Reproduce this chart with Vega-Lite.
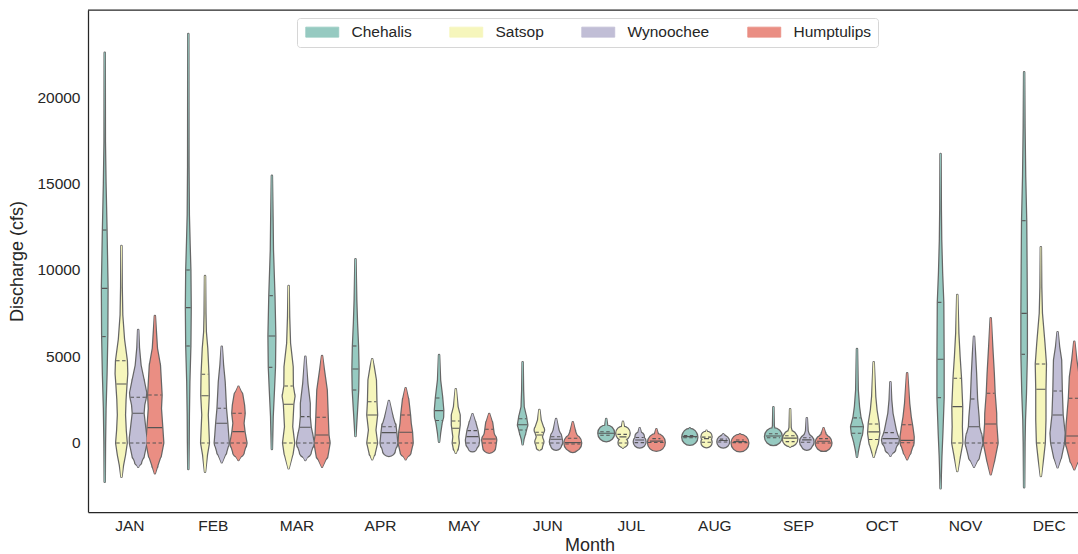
{
"$schema": "https://vega.github.io/schema/vega-lite/v6.json",
"width": 990, "height": 502,
"autosize": {"type": "none"},
"padding": {"left": 88, "top": 10, "right": 0, "bottom": 42},
"background": "white",
"config": {
 "view": {"stroke": null},
 "font": "Liberation Sans",
 "axis": {"domainColor": "#262626", "domainWidth": 1.25, "ticks": false, "grid": false, "labelFont": "Liberation Sans", "labelFontSize": 15.5, "labelColor": "#262626", "titleFont": "Liberation Sans", "titleFontSize": 18, "titleFontWeight": "normal", "titleColor": "#262626"}
},
"datasets": {
"violins": [
{"m":"JAN","r":"Chehalis","v":22560,"d":0},{"m":"JAN","r":"Chehalis","v":17400,"d":0.03},{"m":"JAN","r":"Chehalis","v":15000,"d":0.15},{"m":"JAN","r":"Chehalis","v":12300,"d":0.35},{"m":"JAN","r":"Chehalis","v":9000,"d":0.55},{"m":"JAN","r":"Chehalis","v":6200,"d":0.5},{"m":"JAN","r":"Chehalis","v":4000,"d":0.35},{"m":"JAN","r":"Chehalis","v":2000,"d":0.15},{"m":"JAN","r":"Chehalis","v":0,"d":0.05},{"m":"JAN","r":"Chehalis","v":-2237,"d":0},
{"m":"JAN","r":"Satsop","v":11387,"d":0},{"m":"JAN","r":"Satsop","v":9000,"d":0.05},{"m":"JAN","r":"Satsop","v":7400,"d":0.15},{"m":"JAN","r":"Satsop","v":6000,"d":0.5},{"m":"JAN","r":"Satsop","v":4757,"d":1.07},{"m":"JAN","r":"Satsop","v":4000,"d":1.15},{"m":"JAN","r":"Satsop","v":3410,"d":1.0},{"m":"JAN","r":"Satsop","v":2500,"d":0.8},{"m":"JAN","r":"Satsop","v":1620,"d":0.7},{"m":"JAN","r":"Satsop","v":700,"d":0.85},{"m":"JAN","r":"Satsop","v":0,"d":1.05},{"m":"JAN","r":"Satsop","v":-700,"d":0.7},{"m":"JAN","r":"Satsop","v":-1300,"d":0.3},{"m":"JAN","r":"Satsop","v":-1946,"d":0},
{"m":"JAN","r":"Wynoochee","v":6531,"d":0},{"m":"JAN","r":"Wynoochee","v":5500,"d":0.15},{"m":"JAN","r":"Wynoochee","v":4500,"d":0.47},{"m":"JAN","r":"Wynoochee","v":3550,"d":1.15},{"m":"JAN","r":"Wynoochee","v":2900,"d":1.6},{"m":"JAN","r":"Wynoochee","v":2640,"d":1.53},{"m":"JAN","r":"Wynoochee","v":2200,"d":1.2},{"m":"JAN","r":"Wynoochee","v":1715,"d":1.07},{"m":"JAN","r":"Wynoochee","v":900,"d":1.4},{"m":"JAN","r":"Wynoochee","v":300,"d":1.65},{"m":"JAN","r":"Wynoochee","v":0,"d":1.65},{"m":"JAN","r":"Wynoochee","v":-700,"d":1.15},{"m":"JAN","r":"Wynoochee","v":-1100,"d":0.6},{"m":"JAN","r":"Wynoochee","v":-1370,"d":0},
{"m":"JAN","r":"Humptulips","v":7341,"d":0},{"m":"JAN","r":"Humptulips","v":6400,"d":0.2},{"m":"JAN","r":"Humptulips","v":5470,"d":0.4},{"m":"JAN","r":"Humptulips","v":4500,"d":1.0},{"m":"JAN","r":"Humptulips","v":2774,"d":1.33},{"m":"JAN","r":"Humptulips","v":2000,"d":1.2},{"m":"JAN","r":"Humptulips","v":886,"d":1.47},{"m":"JAN","r":"Humptulips","v":0,"d":1.67},{"m":"JAN","r":"Humptulips","v":-670,"d":1.23},{"m":"JAN","r":"Humptulips","v":-1300,"d":0.5},{"m":"JAN","r":"Humptulips","v":-1753,"d":0},
{"m":"FEB","r":"Chehalis","v":23640,"d":0},{"m":"FEB","r":"Chehalis","v":16000,"d":0.03},{"m":"FEB","r":"Chehalis","v":13200,"d":0.1},{"m":"FEB","r":"Chehalis","v":11500,"d":0.25},{"m":"FEB","r":"Chehalis","v":10000,"d":0.4},{"m":"FEB","r":"Chehalis","v":7822,"d":0.47},{"m":"FEB","r":"Chehalis","v":5607,"d":0.4},{"m":"FEB","r":"Chehalis","v":3543,"d":0.2},{"m":"FEB","r":"Chehalis","v":1620,"d":0.1},{"m":"FEB","r":"Chehalis","v":0,"d":0.06},{"m":"FEB","r":"Chehalis","v":-1503,"d":0},
{"m":"FEB","r":"Satsop","v":9653,"d":0},{"m":"FEB","r":"Satsop","v":7500,"d":0.07},{"m":"FEB","r":"Satsop","v":6434,"d":0.15},{"m":"FEB","r":"Satsop","v":5473,"d":0.43},{"m":"FEB","r":"Satsop","v":3969,"d":0.67},{"m":"FEB","r":"Satsop","v":2734,"d":0.73},{"m":"FEB","r":"Satsop","v":1620,"d":0.53},{"m":"FEB","r":"Satsop","v":0,"d":0.77},{"m":"FEB","r":"Satsop","v":-694,"d":0.37},{"m":"FEB","r":"Satsop","v":-1658,"d":0},
{"m":"FEB","r":"Wynoochee","v":5569,"d":0},{"m":"FEB","r":"Wynoochee","v":4508,"d":0.25},{"m":"FEB","r":"Wynoochee","v":3543,"d":0.57},{"m":"FEB","r":"Wynoochee","v":2005,"d":0.83},{"m":"FEB","r":"Wynoochee","v":1137,"d":1.1},{"m":"FEB","r":"Wynoochee","v":462,"d":1.27},{"m":"FEB","r":"Wynoochee","v":0,"d":1.4},{"m":"FEB","r":"Wynoochee","v":-501,"d":0.9},{"m":"FEB","r":"Wynoochee","v":-1118,"d":0},
{"m":"FEB","r":"Humptulips","v":3256,"d":0},{"m":"FEB","r":"Humptulips","v":2774,"d":0.77},{"m":"FEB","r":"Humptulips","v":2200,"d":1.1},{"m":"FEB","r":"Humptulips","v":1715,"d":1.23},{"m":"FEB","r":"Humptulips","v":1137,"d":1.0},{"m":"FEB","r":"Humptulips","v":655,"d":1.2},{"m":"FEB","r":"Humptulips","v":0,"d":1.6},{"m":"FEB","r":"Humptulips","v":-501,"d":1.07},{"m":"FEB","r":"Humptulips","v":-983,"d":0},
{"m":"MAR","r":"Chehalis","v":15450,"d":0},{"m":"MAR","r":"Chehalis","v":13080,"d":0.12},{"m":"MAR","r":"Chehalis","v":11155,"d":0.2},{"m":"MAR","r":"Chehalis","v":8515,"d":0.5},{"m":"MAR","r":"Chehalis","v":6185,"d":0.67},{"m":"MAR","r":"Chehalis","v":4374,"d":0.6},{"m":"MAR","r":"Chehalis","v":3063,"d":0.4},{"m":"MAR","r":"Chehalis","v":1522,"d":0.15},{"m":"MAR","r":"Chehalis","v":500,"d":0.07},{"m":"MAR","r":"Chehalis","v":-347,"d":0},
{"m":"MAR","r":"Satsop","v":9075,"d":0},{"m":"MAR","r":"Satsop","v":7300,"d":0.1},{"m":"MAR","r":"Satsop","v":5760,"d":0.27},{"m":"MAR","r":"Satsop","v":4410,"d":0.8},{"m":"MAR","r":"Satsop","v":3295,"d":0.83},{"m":"MAR","r":"Satsop","v":2700,"d":1.17},{"m":"MAR","r":"Satsop","v":2235,"d":0.93},{"m":"MAR","r":"Satsop","v":942,"d":0.7},{"m":"MAR","r":"Satsop","v":0,"d":1.1},{"m":"MAR","r":"Satsop","v":-595,"d":0.8},{"m":"MAR","r":"Satsop","v":-1464,"d":0},
{"m":"MAR","r":"Wynoochee","v":4990,"d":0},{"m":"MAR","r":"Wynoochee","v":3449,"d":0.4},{"m":"MAR","r":"Wynoochee","v":2294,"d":0.87},{"m":"MAR","r":"Wynoochee","v":1522,"d":0.87},{"m":"MAR","r":"Wynoochee","v":907,"d":1.07},{"m":"MAR","r":"Wynoochee","v":462,"d":1.4},{"m":"MAR","r":"Wynoochee","v":0,"d":1.67},{"m":"MAR","r":"Wynoochee","v":-501,"d":1.1},{"m":"MAR","r":"Wynoochee","v":-983,"d":0},
{"m":"MAR","r":"Humptulips","v":5029,"d":0},{"m":"MAR","r":"Humptulips","v":4220,"d":0.37},{"m":"MAR","r":"Humptulips","v":3063,"d":0.93},{"m":"MAR","r":"Humptulips","v":1484,"d":1.13},{"m":"MAR","r":"Humptulips","v":462,"d":1.27},{"m":"MAR","r":"Humptulips","v":0,"d":1.5},{"m":"MAR","r":"Humptulips","v":-694,"d":1.1},{"m":"MAR","r":"Humptulips","v":-1370,"d":0},
{"m":"APR","r":"Chehalis","v":10618,"d":0},{"m":"APR","r":"Chehalis","v":8265,"d":0.15},{"m":"APR","r":"Chehalis","v":6917,"d":0.3},{"m":"APR","r":"Chehalis","v":5607,"d":0.5},{"m":"APR","r":"Chehalis","v":4277,"d":0.6},{"m":"APR","r":"Chehalis","v":3063,"d":0.53},{"m":"APR","r":"Chehalis","v":1907,"d":0.3},{"m":"APR","r":"Chehalis","v":942,"d":0.1},{"m":"APR","r":"Chehalis","v":405,"d":0},
{"m":"APR","r":"Satsop","v":4838,"d":0},{"m":"APR","r":"Satsop","v":4410,"d":0.3},{"m":"APR","r":"Satsop","v":3641,"d":0.73},{"m":"APR","r":"Satsop","v":2387,"d":0.83},{"m":"APR","r":"Satsop","v":1618,"d":0.97},{"m":"APR","r":"Satsop","v":751,"d":0.63},{"m":"APR","r":"Satsop","v":0,"d":0.97},{"m":"APR","r":"Satsop","v":-595,"d":0.5},{"m":"APR","r":"Satsop","v":-942,"d":0},
{"m":"APR","r":"Wynoochee","v":2428,"d":0},{"m":"APR","r":"Wynoochee","v":1522,"d":0.73},{"m":"APR","r":"Wynoochee","v":942,"d":1.33},{"m":"APR","r":"Wynoochee","v":597,"d":1.47},{"m":"APR","r":"Wynoochee","v":0,"d":1.67},{"m":"APR","r":"Wynoochee","v":-405,"d":1.2},{"m":"APR","r":"Wynoochee","v":-595,"d":0},
{"m":"APR","r":"Humptulips","v":3160,"d":0},{"m":"APR","r":"Humptulips","v":2485,"d":0.53},{"m":"APR","r":"Humptulips","v":1618,"d":0.87},{"m":"APR","r":"Humptulips","v":1137,"d":1.0},{"m":"APR","r":"Humptulips","v":618,"d":1.27},{"m":"APR","r":"Humptulips","v":0,"d":1.4},{"m":"APR","r":"Humptulips","v":-501,"d":1.0},{"m":"APR","r":"Humptulips","v":-942,"d":0},
{"m":"MAY","r":"Chehalis","v":5086,"d":0},{"m":"MAY","r":"Chehalis","v":3641,"d":0.2},{"m":"MAY","r":"Chehalis","v":2677,"d":0.6},{"m":"MAY","r":"Chehalis","v":1900,"d":0.83},{"m":"MAY","r":"Chehalis","v":1500,"d":0.8},{"m":"MAY","r":"Chehalis","v":1137,"d":0.5},{"m":"MAY","r":"Chehalis","v":559,"d":0.2},{"m":"MAY","r":"Chehalis","v":77,"d":0},
{"m":"MAY","r":"Satsop","v":3102,"d":0},{"m":"MAY","r":"Satsop","v":2100,"d":0.35},{"m":"MAY","r":"Satsop","v":1618,"d":0.77},{"m":"MAY","r":"Satsop","v":1040,"d":0.77},{"m":"MAY","r":"Satsop","v":364,"d":0.47},{"m":"MAY","r":"Satsop","v":0,"d":0.6},{"m":"MAY","r":"Satsop","v":-308,"d":0.4},{"m":"MAY","r":"Satsop","v":-559,"d":0},
{"m":"MAY","r":"Wynoochee","v":1657,"d":0},{"m":"MAY","r":"Wynoochee","v":1137,"d":0.6},{"m":"MAY","r":"Wynoochee","v":713,"d":1.0},{"m":"MAY","r":"Wynoochee","v":173,"d":1.3},{"m":"MAY","r":"Wynoochee","v":0,"d":1.25},{"m":"MAY","r":"Wynoochee","v":-250,"d":0.8},{"m":"MAY","r":"Wynoochee","v":-405,"d":0},
{"m":"MAY","r":"Humptulips","v":1676,"d":0},{"m":"MAY","r":"Humptulips","v":1137,"d":0.6},{"m":"MAY","r":"Humptulips","v":559,"d":0.87},{"m":"MAY","r":"Humptulips","v":173,"d":1.4},{"m":"MAY","r":"Humptulips","v":-212,"d":1.2},{"m":"MAY","r":"Humptulips","v":-559,"d":0},
{"m":"JUN","r":"Chehalis","v":4662,"d":0},{"m":"JUN","r":"Chehalis","v":3063,"d":0.08},{"m":"JUN","r":"Chehalis","v":2100,"d":0.2},{"m":"JUN","r":"Chehalis","v":1520,"d":0.67},{"m":"JUN","r":"Chehalis","v":1040,"d":0.93},{"m":"JUN","r":"Chehalis","v":560,"d":0.5},{"m":"JUN","r":"Chehalis","v":200,"d":0.15},{"m":"JUN","r":"Chehalis","v":-77,"d":0},
{"m":"JUN","r":"Satsop","v":1907,"d":0},{"m":"JUN","r":"Satsop","v":1329,"d":0.25},{"m":"JUN","r":"Satsop","v":751,"d":0.93},{"m":"JUN","r":"Satsop","v":364,"d":0.5},{"m":"JUN","r":"Satsop","v":77,"d":0.8},{"m":"JUN","r":"Satsop","v":-230,"d":0.5},{"m":"JUN","r":"Satsop","v":-405,"d":0},
{"m":"JUN","r":"Wynoochee","v":1387,"d":0},{"m":"JUN","r":"Wynoochee","v":751,"d":0.47},{"m":"JUN","r":"Wynoochee","v":364,"d":1.03},{"m":"JUN","r":"Wynoochee","v":77,"d":1.23},{"m":"JUN","r":"Wynoochee","v":-100,"d":1.0},{"m":"JUN","r":"Wynoochee","v":-308,"d":0},
{"m":"JUN","r":"Humptulips","v":1195,"d":0},{"m":"JUN","r":"Humptulips","v":655,"d":0.47},{"m":"JUN","r":"Humptulips","v":270,"d":1.0},{"m":"JUN","r":"Humptulips","v":0,"d":1.67},{"m":"JUN","r":"Humptulips","v":-200,"d":1.1},{"m":"JUN","r":"Humptulips","v":-347,"d":0},
{"m":"JUL","r":"Chehalis","v":1387,"d":0},{"m":"JUL","r":"Chehalis","v":1000,"d":0.2},{"m":"JUL","r":"Chehalis","v":800,"d":0.6},{"m":"JUL","r":"Chehalis","v":560,"d":1.57},{"m":"JUL","r":"Chehalis","v":350,"d":0.8},{"m":"JUL","r":"Chehalis","v":135,"d":0},
{"m":"JUL","r":"Satsop","v":1233,"d":0},{"m":"JUL","r":"Satsop","v":850,"d":0.25},{"m":"JUL","r":"Satsop","v":560,"d":1.33},{"m":"JUL","r":"Satsop","v":270,"d":0.4},{"m":"JUL","r":"Satsop","v":20,"d":0.87},{"m":"JUL","r":"Satsop","v":-270,"d":0},
{"m":"JUL","r":"Wynoochee","v":848,"d":0},{"m":"JUL","r":"Wynoochee","v":550,"d":0.3},{"m":"JUL","r":"Wynoochee","v":366,"d":0.83},{"m":"JUL","r":"Wynoochee","v":150,"d":0.9},{"m":"JUL","r":"Wynoochee","v":77,"d":1.17},{"m":"JUL","r":"Wynoochee","v":-154,"d":0},
{"m":"JUL","r":"Humptulips","v":790,"d":0},{"m":"JUL","r":"Humptulips","v":500,"d":0.3},{"m":"JUL","r":"Humptulips","v":250,"d":0.8},{"m":"JUL","r":"Humptulips","v":30,"d":1.67},{"m":"JUL","r":"Humptulips","v":-154,"d":0},
{"m":"AUG","r":"Chehalis","v":848,"d":0},{"m":"AUG","r":"Chehalis","v":600,"d":0.25},{"m":"AUG","r":"Chehalis","v":400,"d":1.4},{"m":"AUG","r":"Chehalis","v":330,"d":1.5},{"m":"AUG","r":"Chehalis","v":200,"d":0.6},{"m":"AUG","r":"Chehalis","v":77,"d":0},
{"m":"AUG","r":"Satsop","v":713,"d":0},{"m":"AUG","r":"Satsop","v":500,"d":0.2},{"m":"AUG","r":"Satsop","v":366,"d":1.0},{"m":"AUG","r":"Satsop","v":212,"d":0.43},{"m":"AUG","r":"Satsop","v":40,"d":1.0},{"m":"AUG","r":"Satsop","v":-116,"d":0},
{"m":"AUG","r":"Wynoochee","v":501,"d":0},{"m":"AUG","r":"Wynoochee","v":300,"d":0.5},{"m":"AUG","r":"Wynoochee","v":150,"d":0.9},{"m":"AUG","r":"Wynoochee","v":77,"d":1.17},{"m":"AUG","r":"Wynoochee","v":-154,"d":0},
{"m":"AUG","r":"Humptulips","v":501,"d":0},{"m":"AUG","r":"Humptulips","v":300,"d":0.4},{"m":"AUG","r":"Humptulips","v":120,"d":1.0},{"m":"AUG","r":"Humptulips","v":0,"d":1.67},{"m":"AUG","r":"Humptulips","v":-154,"d":0},
{"m":"SEP","r":"Chehalis","v":2063,"d":0},{"m":"SEP","r":"Chehalis","v":1000,"d":0.07},{"m":"SEP","r":"Chehalis","v":700,"d":0.3},{"m":"SEP","r":"Chehalis","v":500,"d":1.0},{"m":"SEP","r":"Chehalis","v":366,"d":1.67},{"m":"SEP","r":"Chehalis","v":200,"d":1.0},{"m":"SEP","r":"Chehalis","v":-20,"d":0},
{"m":"SEP","r":"Satsop","v":1946,"d":0},{"m":"SEP","r":"Satsop","v":900,"d":0.1},{"m":"SEP","r":"Satsop","v":600,"d":0.4},{"m":"SEP","r":"Satsop","v":350,"d":1.2},{"m":"SEP","r":"Satsop","v":230,"d":1.43},{"m":"SEP","r":"Satsop","v":50,"d":0.8},{"m":"SEP","r":"Satsop","v":-212,"d":0},
{"m":"SEP","r":"Wynoochee","v":1425,"d":0},{"m":"SEP","r":"Wynoochee","v":700,"d":0.15},{"m":"SEP","r":"Wynoochee","v":400,"d":0.5},{"m":"SEP","r":"Wynoochee","v":200,"d":1.0},{"m":"SEP","r":"Wynoochee","v":77,"d":1.33},{"m":"SEP","r":"Wynoochee","v":-100,"d":1.0},{"m":"SEP","r":"Wynoochee","v":-308,"d":0},
{"m":"SEP","r":"Humptulips","v":848,"d":0},{"m":"SEP","r":"Humptulips","v":500,"d":0.4},{"m":"SEP","r":"Humptulips","v":250,"d":0.9},{"m":"SEP","r":"Humptulips","v":0,"d":1.57},{"m":"SEP","r":"Humptulips","v":-250,"d":0},
{"m":"OCT","r":"Chehalis","v":5433,"d":0},{"m":"OCT","r":"Chehalis","v":3063,"d":0.15},{"m":"OCT","r":"Chehalis","v":2100,"d":0.4},{"m":"OCT","r":"Chehalis","v":1522,"d":0.67},{"m":"OCT","r":"Chehalis","v":942,"d":1.17},{"m":"OCT","r":"Chehalis","v":559,"d":1.03},{"m":"OCT","r":"Chehalis","v":0,"d":0.5},{"m":"OCT","r":"Chehalis","v":-500,"d":0.15},{"m":"OCT","r":"Chehalis","v":-790,"d":0},
{"m":"OCT","r":"Satsop","v":4662,"d":0},{"m":"OCT","r":"Satsop","v":2677,"d":0.3},{"m":"OCT","r":"Satsop","v":1907,"d":0.55},{"m":"OCT","r":"Satsop","v":1137,"d":0.97},{"m":"OCT","r":"Satsop","v":559,"d":1.1},{"m":"OCT","r":"Satsop","v":0,"d":0.83},{"m":"OCT","r":"Satsop","v":-500,"d":0.3},{"m":"OCT","r":"Satsop","v":-790,"d":0},
{"m":"OCT","r":"Wynoochee","v":3506,"d":0},{"m":"OCT","r":"Wynoochee","v":2500,"d":0.15},{"m":"OCT","r":"Wynoochee","v":1715,"d":0.4},{"m":"OCT","r":"Wynoochee","v":751,"d":1.07},{"m":"OCT","r":"Wynoochee","v":173,"d":1.67},{"m":"OCT","r":"Wynoochee","v":-308,"d":1.0},{"m":"OCT","r":"Wynoochee","v":-732,"d":0},
{"m":"OCT","r":"Humptulips","v":4028,"d":0},{"m":"OCT","r":"Humptulips","v":2294,"d":0.4},{"m":"OCT","r":"Humptulips","v":1522,"d":0.7},{"m":"OCT","r":"Humptulips","v":942,"d":1.03},{"m":"OCT","r":"Humptulips","v":366,"d":1.3},{"m":"OCT","r":"Humptulips","v":0,"d":1.27},{"m":"OCT","r":"Humptulips","v":-501,"d":0.7},{"m":"OCT","r":"Humptulips","v":-945,"d":0},
{"m":"NOV","r":"Chehalis","v":16704,"d":0},{"m":"NOV","r":"Chehalis","v":13500,"d":0.05},{"m":"NOV","r":"Chehalis","v":11733,"d":0.12},{"m":"NOV","r":"Chehalis","v":9810,"d":0.3},{"m":"NOV","r":"Chehalis","v":8130,"d":0.53},{"m":"NOV","r":"Chehalis","v":4836,"d":0.6},{"m":"NOV","r":"Chehalis","v":2620,"d":0.6},{"m":"NOV","r":"Chehalis","v":559,"d":0.35},{"m":"NOV","r":"Chehalis","v":-790,"d":0.15},{"m":"NOV","r":"Chehalis","v":-1900,"d":0.04},{"m":"NOV","r":"Chehalis","v":-2620,"d":0},
{"m":"NOV","r":"Satsop","v":8554,"d":0},{"m":"NOV","r":"Satsop","v":6339,"d":0.2},{"m":"NOV","r":"Satsop","v":4990,"d":0.45},{"m":"NOV","r":"Satsop","v":3738,"d":0.73},{"m":"NOV","r":"Satsop","v":2100,"d":0.97},{"m":"NOV","r":"Satsop","v":942,"d":0.9},{"m":"NOV","r":"Satsop","v":0,"d":1.0},{"m":"NOV","r":"Satsop","v":-790,"d":0.5},{"m":"NOV","r":"Satsop","v":-1618,"d":0},
{"m":"NOV","r":"Wynoochee","v":6147,"d":0},{"m":"NOV","r":"Wynoochee","v":5185,"d":0.2},{"m":"NOV","r":"Wynoochee","v":4028,"d":0.4},{"m":"NOV","r":"Wynoochee","v":2543,"d":0.6},{"m":"NOV","r":"Wynoochee","v":1522,"d":0.9},{"m":"NOV","r":"Wynoochee","v":942,"d":1.0},{"m":"NOV","r":"Wynoochee","v":366,"d":1.53},{"m":"NOV","r":"Wynoochee","v":0,"d":1.67},{"m":"NOV","r":"Wynoochee","v":-790,"d":1.0},{"m":"NOV","r":"Wynoochee","v":-1368,"d":0},
{"m":"NOV","r":"Humptulips","v":7207,"d":0},{"m":"NOV","r":"Humptulips","v":5569,"d":0.3},{"m":"NOV","r":"Humptulips","v":4028,"d":0.6},{"m":"NOV","r":"Humptulips","v":2871,"d":0.77},{"m":"NOV","r":"Humptulips","v":1715,"d":1.07},{"m":"NOV","r":"Humptulips","v":1098,"d":1.1},{"m":"NOV","r":"Humptulips","v":0,"d":1.37},{"m":"NOV","r":"Humptulips","v":-983,"d":0.7},{"m":"NOV","r":"Humptulips","v":-1811,"d":0},
{"m":"DEC","r":"Chehalis","v":21426,"d":0},{"m":"DEC","r":"Chehalis","v":18280,"d":0.07},{"m":"DEC","r":"Chehalis","v":15390,"d":0.2},{"m":"DEC","r":"Chehalis","v":12850,"d":0.4},{"m":"DEC","r":"Chehalis","v":10190,"d":0.47},{"m":"DEC","r":"Chehalis","v":7495,"d":0.53},{"m":"DEC","r":"Chehalis","v":5127,"d":0.53},{"m":"DEC","r":"Chehalis","v":2871,"d":0.35},{"m":"DEC","r":"Chehalis","v":1329,"d":0.15},{"m":"DEC","r":"Chehalis","v":0,"d":0.07},{"m":"DEC","r":"Chehalis","v":-2562,"d":0},
{"m":"DEC","r":"Satsop","v":11310,"d":0},{"m":"DEC","r":"Satsop","v":9000,"d":0.07},{"m":"DEC","r":"Satsop","v":7495,"d":0.2},{"m":"DEC","r":"Satsop","v":5760,"d":0.7},{"m":"DEC","r":"Satsop","v":4566,"d":1.0},{"m":"DEC","r":"Satsop","v":3102,"d":0.9},{"m":"DEC","r":"Satsop","v":1329,"d":0.9},{"m":"DEC","r":"Satsop","v":0,"d":0.77},{"m":"DEC","r":"Satsop","v":-983,"d":0.4},{"m":"DEC","r":"Satsop","v":-1907,"d":0},
{"m":"DEC","r":"Wynoochee","v":6398,"d":0},{"m":"DEC","r":"Wynoochee","v":5569,"d":0.3},{"m":"DEC","r":"Wynoochee","v":4797,"d":0.7},{"m":"DEC","r":"Wynoochee","v":3005,"d":0.83},{"m":"DEC","r":"Wynoochee","v":1618,"d":1.0},{"m":"DEC","r":"Wynoochee","v":559,"d":1.4},{"m":"DEC","r":"Wynoochee","v":0,"d":1.27},{"m":"DEC","r":"Wynoochee","v":-790,"d":0.7},{"m":"DEC","r":"Wynoochee","v":-1407,"d":0},
{"m":"DEC","r":"Humptulips","v":5858,"d":0},{"m":"DEC","r":"Humptulips","v":4800,"d":0.4},{"m":"DEC","r":"Humptulips","v":3835,"d":0.87},{"m":"DEC","r":"Humptulips","v":2582,"d":1.07},{"m":"DEC","r":"Humptulips","v":1000,"d":1.53},{"m":"DEC","r":"Humptulips","v":0,"d":1.67},{"m":"DEC","r":"Humptulips","v":-983,"d":0.8},{"m":"DEC","r":"Humptulips","v":-1522,"d":0}
],
"quarts": [
{"m":"JAN","r":"Chehalis","q":"Q1","v":6150,"d":0.5},{"m":"JAN","r":"Chehalis","q":"median","v":8940,"d":0.55},{"m":"JAN","r":"Chehalis","q":"Q3","v":12310,"d":0.35},
{"m":"JAN","r":"Satsop","q":"Q1","v":0,"d":1.05},{"m":"JAN","r":"Satsop","q":"median","v":3410,"d":1.0},{"m":"JAN","r":"Satsop","q":"Q3","v":4757,"d":1.07},
{"m":"JAN","r":"Wynoochee","q":"Q1","v":0,"d":1.65},{"m":"JAN","r":"Wynoochee","q":"median","v":1715,"d":1.07},{"m":"JAN","r":"Wynoochee","q":"Q3","v":2640,"d":1.53},
{"m":"JAN","r":"Humptulips","q":"Q1","v":0,"d":1.67},{"m":"JAN","r":"Humptulips","q":"median","v":886,"d":1.47},{"m":"JAN","r":"Humptulips","q":"Q3","v":2774,"d":1.33},
{"m":"FEB","r":"Chehalis","q":"Q1","v":5607,"d":0.4},{"m":"FEB","r":"Chehalis","q":"median","v":7822,"d":0.47},{"m":"FEB","r":"Chehalis","q":"Q3","v":10000,"d":0.4},
{"m":"FEB","r":"Satsop","q":"Q1","v":0,"d":0.77},{"m":"FEB","r":"Satsop","q":"median","v":2734,"d":0.73},{"m":"FEB","r":"Satsop","q":"Q3","v":3969,"d":0.67},
{"m":"FEB","r":"Wynoochee","q":"Q1","v":0,"d":1.4},{"m":"FEB","r":"Wynoochee","q":"median","v":1137,"d":1.1},{"m":"FEB","r":"Wynoochee","q":"Q3","v":2005,"d":0.83},
{"m":"FEB","r":"Humptulips","q":"Q1","v":0,"d":1.6},{"m":"FEB","r":"Humptulips","q":"median","v":655,"d":1.2},{"m":"FEB","r":"Humptulips","q":"Q3","v":1715,"d":1.23},
{"m":"MAR","r":"Chehalis","q":"Q1","v":4374,"d":0.6},{"m":"MAR","r":"Chehalis","q":"median","v":6185,"d":0.67},{"m":"MAR","r":"Chehalis","q":"Q3","v":8515,"d":0.5},
{"m":"MAR","r":"Satsop","q":"Q1","v":0,"d":1.1},{"m":"MAR","r":"Satsop","q":"median","v":2235,"d":0.93},{"m":"MAR","r":"Satsop","q":"Q3","v":3295,"d":0.83},
{"m":"MAR","r":"Wynoochee","q":"Q1","v":0,"d":1.67},{"m":"MAR","r":"Wynoochee","q":"median","v":907,"d":1.07},{"m":"MAR","r":"Wynoochee","q":"Q3","v":1522,"d":0.87},
{"m":"MAR","r":"Humptulips","q":"Q1","v":0,"d":1.5},{"m":"MAR","r":"Humptulips","q":"median","v":462,"d":1.27},{"m":"MAR","r":"Humptulips","q":"Q3","v":1484,"d":1.13},
{"m":"APR","r":"Chehalis","q":"Q1","v":3063,"d":0.53},{"m":"APR","r":"Chehalis","q":"median","v":4277,"d":0.6},{"m":"APR","r":"Chehalis","q":"Q3","v":5607,"d":0.5},
{"m":"APR","r":"Satsop","q":"Q1","v":0,"d":0.97},{"m":"APR","r":"Satsop","q":"median","v":1618,"d":0.97},{"m":"APR","r":"Satsop","q":"Q3","v":2387,"d":0.83},
{"m":"APR","r":"Wynoochee","q":"Q1","v":0,"d":1.67},{"m":"APR","r":"Wynoochee","q":"median","v":597,"d":1.47},{"m":"APR","r":"Wynoochee","q":"Q3","v":942,"d":1.33},
{"m":"APR","r":"Humptulips","q":"Q1","v":0,"d":1.4},{"m":"APR","r":"Humptulips","q":"median","v":618,"d":1.27},{"m":"APR","r":"Humptulips","q":"Q3","v":1618,"d":0.87},
{"m":"MAY","r":"Chehalis","q":"Q1","v":1300,"d":0.7},{"m":"MAY","r":"Chehalis","q":"median","v":1870,"d":0.83},{"m":"MAY","r":"Chehalis","q":"Q3","v":2600,"d":0.62},
{"m":"MAY","r":"Satsop","q":"Q1","v":0,"d":0.6},{"m":"MAY","r":"Satsop","q":"median","v":848,"d":0.72},{"m":"MAY","r":"Satsop","q":"Q3","v":1272,"d":0.77},
{"m":"MAY","r":"Wynoochee","q":"Q1","v":0,"d":1.25},{"m":"MAY","r":"Wynoochee","q":"median","v":366,"d":1.2},{"m":"MAY","r":"Wynoochee","q":"Q3","v":713,"d":1.0},
{"m":"MAY","r":"Humptulips","q":"Q1","v":0,"d":1.35},{"m":"MAY","r":"Humptulips","q":"median","v":231,"d":1.3},{"m":"MAY","r":"Humptulips","q":"Q3","v":790,"d":0.8},
{"m":"JUN","r":"Chehalis","q":"Q1","v":750,"d":0.7},{"m":"JUN","r":"Chehalis","q":"median","v":1050,"d":0.93},{"m":"JUN","r":"Chehalis","q":"Q3","v":1400,"d":0.75},
{"m":"JUN","r":"Satsop","q":"Q1","v":0,"d":0.75},{"m":"JUN","r":"Satsop","q":"median","v":462,"d":0.6},{"m":"JUN","r":"Satsop","q":"Q3","v":618,"d":0.8},
{"m":"JUN","r":"Wynoochee","q":"Q1","v":0,"d":1.2},{"m":"JUN","r":"Wynoochee","q":"median","v":212,"d":1.12},{"m":"JUN","r":"Wynoochee","q":"Q3","v":364,"d":1.03},
{"m":"JUN","r":"Humptulips","q":"Q1","v":-60,"d":1.5},{"m":"JUN","r":"Humptulips","q":"median","v":20,"d":1.6},{"m":"JUN","r":"Humptulips","q":"Q3","v":270,"d":1.0},
{"m":"JUL","r":"Chehalis","q":"Q1","v":450,"d":1.2},{"m":"JUL","r":"Chehalis","q":"median","v":560,"d":1.57},{"m":"JUL","r":"Chehalis","q":"Q3","v":650,"d":1.2},
{"m":"JUL","r":"Satsop","q":"Q1","v":0,"d":0.85},{"m":"JUL","r":"Satsop","q":"median","v":350,"d":0.7},{"m":"JUL","r":"Satsop","q":"Q3","v":500,"d":1.1},
{"m":"JUL","r":"Wynoochee","q":"Q1","v":20,"d":1.0},{"m":"JUL","r":"Wynoochee","q":"median","v":170,"d":0.9},{"m":"JUL","r":"Wynoochee","q":"Q3","v":320,"d":0.8},
{"m":"JUL","r":"Humptulips","q":"Q1","v":30,"d":1.67},{"m":"JUL","r":"Humptulips","q":"median","v":110,"d":1.3},{"m":"JUL","r":"Humptulips","q":"Q3","v":250,"d":0.8},
{"m":"AUG","r":"Chehalis","q":"Q1","v":300,"d":1.3},{"m":"AUG","r":"Chehalis","q":"median","v":370,"d":1.45},{"m":"AUG","r":"Chehalis","q":"Q3","v":430,"d":1.2},
{"m":"AUG","r":"Satsop","q":"Q1","v":40,"d":1.0},{"m":"AUG","r":"Satsop","q":"median","v":250,"d":0.5},{"m":"AUG","r":"Satsop","q":"Q3","v":340,"d":0.9},
{"m":"AUG","r":"Wynoochee","q":"Q1","v":60,"d":1.1},{"m":"AUG","r":"Wynoochee","q":"median","v":140,"d":0.9},{"m":"AUG","r":"Wynoochee","q":"Q3","v":220,"d":0.7},
{"m":"AUG","r":"Humptulips","q":"Q1","v":20,"d":1.5},{"m":"AUG","r":"Humptulips","q":"median","v":80,"d":1.3},{"m":"AUG","r":"Humptulips","q":"Q3","v":170,"d":0.8},
{"m":"SEP","r":"Chehalis","q":"Q1","v":300,"d":1.3},{"m":"SEP","r":"Chehalis","q":"median","v":400,"d":1.5},{"m":"SEP","r":"Chehalis","q":"Q3","v":530,"d":0.9},
{"m":"SEP","r":"Satsop","q":"Q1","v":80,"d":0.9},{"m":"SEP","r":"Satsop","q":"median","v":280,"d":1.35},{"m":"SEP","r":"Satsop","q":"Q3","v":420,"d":1.0},
{"m":"SEP","r":"Wynoochee","q":"Q1","v":40,"d":1.2},{"m":"SEP","r":"Wynoochee","q":"median","v":180,"d":0.95},{"m":"SEP","r":"Wynoochee","q":"Q3","v":300,"d":0.75},
{"m":"SEP","r":"Humptulips","q":"Q1","v":0,"d":1.57},{"m":"SEP","r":"Humptulips","q":"median","v":100,"d":1.3},{"m":"SEP","r":"Humptulips","q":"Q3","v":250,"d":0.9},
{"m":"OCT","r":"Chehalis","q":"Q1","v":560,"d":1.03},{"m":"OCT","r":"Chehalis","q":"median","v":940,"d":1.17},{"m":"OCT","r":"Chehalis","q":"Q3","v":1450,"d":0.7},
{"m":"OCT","r":"Satsop","q":"Q1","v":200,"d":0.95},{"m":"OCT","r":"Satsop","q":"median","v":640,"d":1.08},{"m":"OCT","r":"Satsop","q":"Q3","v":1100,"d":0.97},
{"m":"OCT","r":"Wynoochee","q":"Q1","v":0,"d":1.5},{"m":"OCT","r":"Wynoochee","q":"median","v":250,"d":1.6},{"m":"OCT","r":"Wynoochee","q":"Q3","v":600,"d":1.2},
{"m":"OCT","r":"Humptulips","q":"Q1","v":10,"d":1.27},{"m":"OCT","r":"Humptulips","q":"median","v":150,"d":1.3},{"m":"OCT","r":"Humptulips","q":"Q3","v":1050,"d":1.0},
{"m":"NOV","r":"Chehalis","q":"Q1","v":2620,"d":0.6},{"m":"NOV","r":"Chehalis","q":"median","v":4836,"d":0.6},{"m":"NOV","r":"Chehalis","q":"Q3","v":8130,"d":0.53},
{"m":"NOV","r":"Satsop","q":"Q1","v":0,"d":1.0},{"m":"NOV","r":"Satsop","q":"median","v":2100,"d":0.97},{"m":"NOV","r":"Satsop","q":"Q3","v":3738,"d":0.73},
{"m":"NOV","r":"Wynoochee","q":"Q1","v":0,"d":1.67},{"m":"NOV","r":"Wynoochee","q":"median","v":942,"d":1.0},{"m":"NOV","r":"Wynoochee","q":"Q3","v":2543,"d":0.6},
{"m":"NOV","r":"Humptulips","q":"Q1","v":0,"d":1.37},{"m":"NOV","r":"Humptulips","q":"median","v":1098,"d":1.1},{"m":"NOV","r":"Humptulips","q":"Q3","v":2871,"d":0.77},
{"m":"DEC","r":"Chehalis","q":"Q1","v":5127,"d":0.53},{"m":"DEC","r":"Chehalis","q":"median","v":7495,"d":0.53},{"m":"DEC","r":"Chehalis","q":"Q3","v":12850,"d":0.4},
{"m":"DEC","r":"Satsop","q":"Q1","v":0,"d":0.77},{"m":"DEC","r":"Satsop","q":"median","v":3102,"d":0.9},{"m":"DEC","r":"Satsop","q":"Q3","v":4566,"d":1.0},
{"m":"DEC","r":"Wynoochee","q":"Q1","v":0,"d":1.27},{"m":"DEC","r":"Wynoochee","q":"median","v":1618,"d":1.0},{"m":"DEC","r":"Wynoochee","q":"Q3","v":3005,"d":0.83},
{"m":"DEC","r":"Humptulips","q":"Q1","v":0,"d":1.67},{"m":"DEC","r":"Humptulips","q":"median","v":405,"d":1.6},{"m":"DEC","r":"Humptulips","q":"Q3","v":2582,"d":1.07}
]
},
"layer": [
 {
  "data": {"name": "violins"},
  "mark": {"type": "trail", "color": "#666666"},
  "encoding": {
   "x": {"field": "m", "type": "nominal", "sort": ["JAN","FEB","MAR","APR","MAY","JUN","JUL","AUG","SEP","OCT","NOV","DEC"], "scale": {"range": [0, 1003], "paddingInner": 0, "paddingOuter": 0}, "axis": {"labelAngle": 0, "labelPadding": 6, "title": "Month", "titlePadding": 3}},
   "xOffset": {"field": "r", "type": "nominal", "sort": ["Chehalis","Satsop","Wynoochee","Humptulips"], "scale": {"range": [16.72, 66.88], "paddingInner": 0, "paddingOuter": 0}},
   "y": {"field": "v", "type": "quantitative", "scale": {"domain": [-3990, 25030], "nice": false, "zero": false}, "axis": {"values": [0,5000,10000,15000,20000], "format": "d", "labelPadding": 8, "title": "Discharge (cfs)", "titlePadding": 10}},
   "size": {"field": "d", "type": "quantitative", "scale": {"domain": [0, 1], "range": [2.5, 12.5]}, "legend": null},
   "detail": [{"field": "m"}, {"field": "r"}],
   "order": {"field": "v", "type": "quantitative"}
  }
 },
 {
  "data": {"name": "violins"},
  "mark": {"type": "trail", "opacity": 1},
  "encoding": {
   "x": {"field": "m", "type": "nominal", "sort": ["JAN","FEB","MAR","APR","MAY","JUN","JUL","AUG","SEP","OCT","NOV","DEC"]},
   "xOffset": {"field": "r", "type": "nominal", "sort": ["Chehalis","Satsop","Wynoochee","Humptulips"]},
   "y": {"field": "v", "type": "quantitative"},
   "size": {"field": "d", "type": "quantitative", "scale": {"domain": [0, 1], "range": [0, 10]}, "legend": null},
   "color": {"field": "r", "type": "nominal", "sort": ["Chehalis","Satsop","Wynoochee","Humptulips"], "scale": {"domain": ["Chehalis","Satsop","Wynoochee","Humptulips"], "range": ["#96cac1","#f6f6bc","#c1bed6","#ea8e83"]},
    "legend": {"orient": "none", "legendX": 209, "legendY": 8, "direction": "horizontal", "columns": 4, "title": null, "symbolType": "M-1,-1H5.6V1H-1Z", "symbolSize": 100, "symbolStrokeWidth": 0.8, "symbolFillOpacity": 1, "symbolOpacity": 1, "labelFont": "Liberation Sans", "labelFontSize": 15.5, "labelColor": "#262626", "labelOffset": 33, "columnPadding": 35, "padding": 6, "fillColor": "white", "strokeColor": "#d6d6d6", "cornerRadius": 3,
     "encode": {"symbols": {"update": {"fill": {"scale": "color", "field": "value"}, "fillOpacity": {"value": 1}, "stroke": {"value": "#777777"}, "strokeWidth": {"value": 0.8}, "opacity": {"value": 1}}}}}},
   "detail": {"field": "m"},
   "order": {"field": "v", "type": "quantitative"}
  }
 },
 {
  "data": {"name": "quarts"},
  "mark": {"type": "point", "shape": "M-1,0H1", "filled": false, "stroke": "#555555", "strokeWidth": 1.1, "opacity": 1},
  "encoding": {
   "x": {"field": "m", "type": "nominal", "sort": ["JAN","FEB","MAR","APR","MAY","JUN","JUL","AUG","SEP","OCT","NOV","DEC"]},
   "xOffset": {"field": "r", "type": "nominal", "sort": ["Chehalis","Satsop","Wynoochee","Humptulips"]},
   "y": {"field": "v", "type": "quantitative"},
   "size": {"field": "d", "type": "quantitative", "scale": {"type": "pow", "exponent": 2, "domain": [0, 1], "range": [0, 100]}, "legend": null},
   "strokeDash": {"field": "q", "type": "nominal", "scale": {"domain": ["Q1","median","Q3"], "range": [[3.5,2.5],[1,0],[3.5,2.5]]}, "legend": null}
  }
 },
 {
  "mark": {"type": "rule", "stroke": "#262626", "strokeWidth": 1.25},
  "data": {"values": [{}]},
  "encoding": {"y": {"datum": 25030}}
 }
],
"resolve": {"scale": {"size": "independent"}}
}
